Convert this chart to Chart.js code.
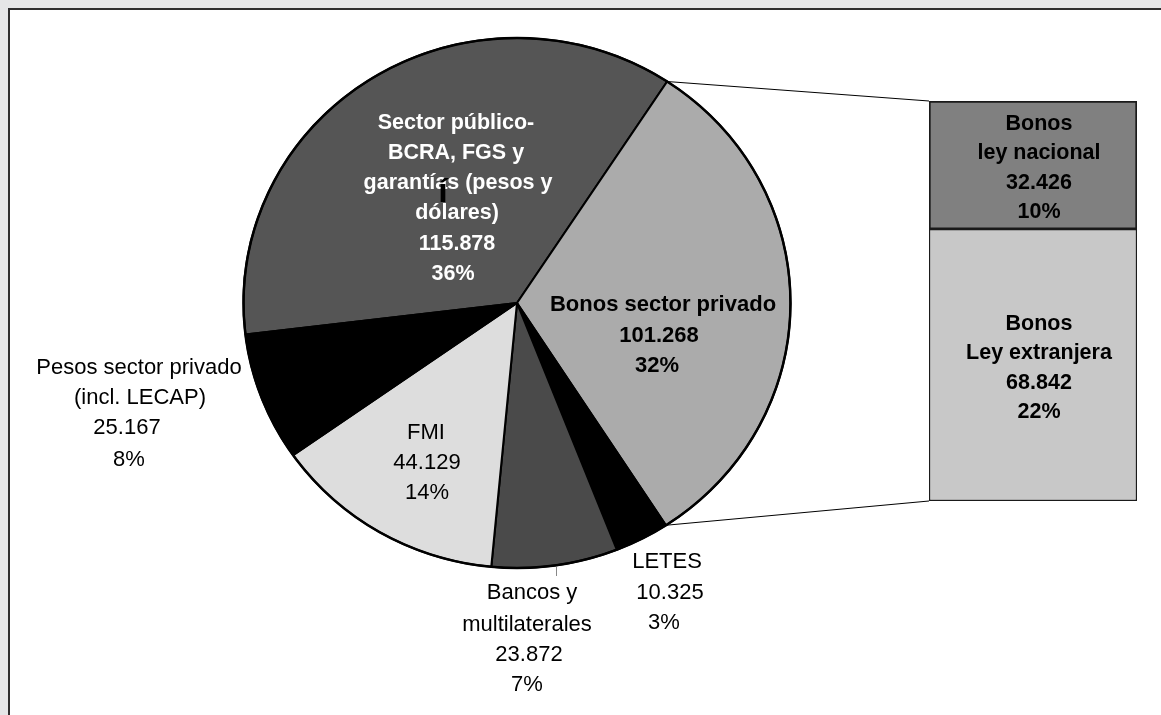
<!DOCTYPE html>
<html><head><meta charset="utf-8">
<script src="https://cdn.jsdelivr.net/npm/chart.js@4.4.1/dist/chart.umd.min.js"></script>
<style>
html,body{margin:0;padding:0;background:#e5e6e7;width:1161px;height:715px;overflow:hidden;}
#frame{position:absolute;left:8px;top:8px;width:1200px;height:760px;background:#fff;border-left:2px solid #2e2e2e;border-top:2px solid #2e2e2e;}
#pie{position:absolute;left:0;top:0;}
#bar{position:absolute;left:929px;top:101px;}
</style></head>
<body>
<div id="frame"></div>
<canvas id="pie" width="1161" height="715"></canvas>
<canvas id="bar" width="208" height="400"></canvas>
<script>
// ---- data ----
const categories = ['Sector público-BCRA, FGS y garantías (pesos y dólares)', 'Bonos sector privado', 'LETES', 'Bancos y multilaterales', 'FMI', 'Pesos sector privado (incl. LECAP)'];
const values = [115878, 101268, 10325, 23872, 44129, 25167];
const percents = ['36%', '32%', '3%', '7%', '14%', '8%'];
const nameLines = [
  ['Sector público-', 'BCRA, FGS y', 'garantías (pesos y', 'dólares)'],
  ['Bonos sector privado'],
  ['LETES'],
  ['Bancos y', 'multilaterales'],
  ['FMI'],
  ['Pesos sector privado', '(incl. LECAP)']
];
const barCategories = ['Bonos Ley extranjera', 'Bonos ley nacional'];
const barValues = [68842, 32426];
const barPercents = ['22%', '10%'];
const barNameLines = [['Bonos', 'Ley extranjera'], ['Bonos', 'ley nacional']];

// ---- styles / layout ----
const sliceColors = ['#555555', '#ababab', '#000000', '#4a4a4a', '#dddddd', '#000000'];
const barColors = ['#c8c8c8', '#808080'];
const FONT = '"Liberation Sans", Arial, Helvetica, sans-serif';
const SX = 1.032; // horizontal stretch of the pie (ellipse)
const pieLabelLayout = [
  {x: [456, 456, 458, 457, 457, 453], y: [123, 153, 183, 213, 244, 274], color: '#fff', bold: true, size: 21.5},
  {x: [663, 659, 657], y: [305, 336, 366], color: '#000', bold: true, size: 22},
  {x: [667, 670, 664], y: [562, 593, 623], color: '#000', bold: false, size: 22},
  {x: [532, 527, 529, 527], y: [593, 625, 655, 685], color: '#000', bold: false, size: 22},
  {x: [426, 427, 427], y: [433, 463, 493], color: '#000', bold: false, size: 22},
  {x: [139, 140, 127, 129], y: [368, 398, 428, 460], color: '#000', bold: false, size: 22}
];
const BAR_LEFT = 929, BAR_TOP = 101;

function fmt(v) { return String(v).replace(/\B(?=(\d{3})+(?!\d))/g, '.'); }

// ---- bar (pie-of-bar secondary) ----
const barLabelPlugin = {
  id: 'barLabels',
  afterDatasetsDraw(chart) {
    const ctx = chart.ctx;
    ctx.save();
    ctx.font = 'bold 21.5px ' + FONT;
    ctx.fillStyle = '#000';
    ctx.textAlign = 'center';
    ctx.textBaseline = 'middle';
    chart.data.datasets.forEach((ds, i) => {
      const el = chart.getDatasetMeta(i).data[0];
      const lines = barNameLines[i].concat([fmt(barValues[i]), barPercents[i]]);
      const cy = (el.y + el.base) / 2 + 3;
      lines.forEach((t, k) => {
        ctx.fillText(t, el.x + 6, cy + (k - (lines.length - 1) / 2) * 29.5);
      });
    });
    ctx.restore();
  }
};

const barChart = new Chart(document.getElementById('bar'), {
  type: 'bar',
  data: {
    labels: ['Bonos sector privado'],
    datasets: barValues.map((v, i) => ({
      label: barCategories[i],
      data: [v],
      backgroundColor: barColors[i],
      borderColor: i === 1 ? '#1a1a1a' : '#1a1a1a',
      borderWidth: i === 1 ? 2 : 1.5,
      borderSkipped: false,
      barPercentage: 1,
      categoryPercentage: 1
    }))
  },
  options: {
    responsive: false,
    devicePixelRatio: 1,
    animation: false,
    layout: {padding: 0},
    plugins: {legend: {display: false}, tooltip: {enabled: false}},
    scales: {
      x: {stacked: true, display: false},
      y: {stacked: true, display: false, min: 0, max: barValues.reduce((a, b) => a + b, 0)}
    }
  },
  plugins: [barLabelPlugin]
});

// ---- pie ----
const ellipsePlugin = {
  id: 'ellipse',
  beforeDatasetsDraw(chart) {
    const a = chart.getDatasetMeta(0).data[0];
    const ctx = chart.ctx;
    ctx.save();
    ctx.translate(a.x, a.y);
    ctx.scale(SX, 1);
    ctx.translate(-a.x, -a.y);
  },
  afterDatasetsDraw(chart) { chart.ctx.restore(); }
};

const overlayPlugin = {
  id: 'overlay',
  afterDraw(chart) {
    const ctx = chart.ctx;
    const meta = chart.getDatasetMeta(0);
    // connectors from "Bonos sector privado" slice to the stacked bar
    const arc = meta.data[1];
    const pt = a => ({x: arc.x + SX * arc.outerRadius * Math.cos(a), y: arc.y + arc.outerRadius * Math.sin(a)});
    const p1 = pt(arc.startAngle), p2 = pt(arc.endAngle);
    const topEl = barChart.getDatasetMeta(1).data[0];
    const botEl = barChart.getDatasetMeta(0).data[0];
    const left = BAR_LEFT + topEl.x - topEl.width / 2;
    ctx.save();
    ctx.strokeStyle = '#000';
    ctx.lineWidth = 1;
    ctx.beginPath();
    ctx.moveTo(p1.x, p1.y); ctx.lineTo(left, BAR_TOP + topEl.y);
    ctx.moveTo(p2.x, p2.y); ctx.lineTo(left, BAR_TOP + botEl.base);
    ctx.stroke();
    // outer rim slightly heavier, as in the original
    ctx.save();
    ctx.translate(arc.x, arc.y);
    ctx.scale(SX, 1);
    ctx.beginPath();
    ctx.arc(0, 0, arc.outerRadius, 0, Math.PI * 2);
    ctx.restore();
    ctx.lineWidth = 2.5;
    ctx.stroke();
    // small leader for Bancos y multilaterales
    ctx.strokeStyle = '#888';
    ctx.lineWidth = 1;
    ctx.beginPath();
    ctx.moveTo(556.5, 567); ctx.lineTo(556.5, 576);
    ctx.stroke();
    // labels
    ctx.textAlign = 'center';
    ctx.textBaseline = 'middle';
    values.forEach((v, i) => {
      const L = pieLabelLayout[i];
      const lines = nameLines[i].concat([fmt(v), percents[i]]);
      ctx.font = (L.bold ? 'bold ' : '') + L.size + 'px ' + FONT;
      ctx.fillStyle = L.color;
      lines.forEach((t, k) => ctx.fillText(t, L.x[k], L.y[k]));
    });
    // stray glyph visible in the original
    ctx.font = 'bold 34px ' + FONT;
    ctx.fillStyle = '#000';
    ctx.textBaseline = 'alphabetic';
    ctx.fillText('í', 443, 202);
    ctx.restore();
  }
};

const pieChart = new Chart(document.getElementById('pie'), {
  type: 'pie',
  data: {
    labels: categories,
    datasets: [{
      data: values,
      backgroundColor: sliceColors,
      borderColor: '#000',
      borderWidth: 2,
      borderAlign: 'center'
    }]
  },
  options: {
    responsive: false,
    devicePixelRatio: 1,
    animation: false,
    rotation: -96.8,
    radius: 265,
    layout: {padding: {left: 0, top: 0, right: 127, bottom: 109}},
    plugins: {legend: {display: false}, tooltip: {enabled: false}}
  },
  plugins: [ellipsePlugin, overlayPlugin]
});
</script>
</body></html>
